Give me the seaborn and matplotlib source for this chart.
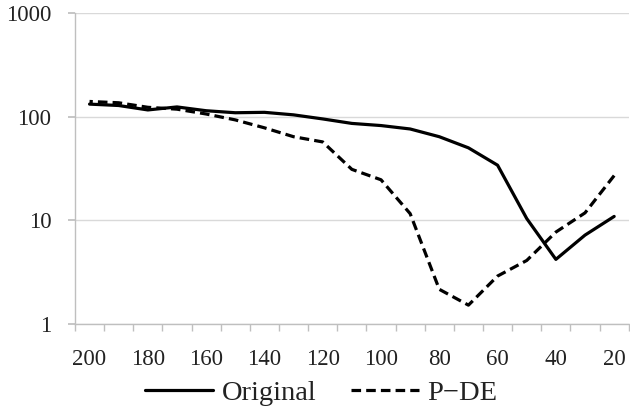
import pandas as pd
import matplotlib.pyplot as plt
import seaborn as sb
from matplotlib.ticker import FixedLocator, NullFormatter

x_vals = [200, 190, 180, 170, 160, 150, 140, 130, 120, 110, 100, 90, 80, 70, 60, 50, 40, 30, 20]
original = [132, 128, 116, 124, 114, 109, 110, 104, 95, 86, 82, 76, 64, 50, 34, 10.4, 4.2, 7.2, 10.9]
pde = [140, 136, 123, 118, 106, 93, 78, 64, 57, 31, 24.6, 11.6, 2.16, 1.52, 2.9, 4.1, 7.7, 11.8, 27]
tick_labels = ["200", "180", "160", "140", "120", "100", "80", "60", "40", "20"]

df = pd.DataFrame({"x": x_vals * 2,
                   "y": original + pde,
                   "series": ["Original"] * len(x_vals) + ["P\u2212DE"] * len(x_vals)})

sb.set_theme(style="white")
plt.rcParams['font.family'] = ['Liberation Serif', 'DejaVu Serif']

fig = plt.figure(figsize=(6.3, 4.12), dpi=100)
ax = fig.add_axes([0.119, 0.2136, 0.879, 0.755])
sb.lineplot(data=df, x="x", y="y", style="series", color="black", linewidth=2.3,
            dashes={"Original": "", "P\u2212DE": (3, 1.6)}, ax=ax, legend=True)
ax.set_yscale("log")
ax.set_ylim(1, 1000)
ax.set_xlim(205, 15)
ax.yaxis.set_major_locator(FixedLocator([1, 10, 100, 1000]))
ax.set_yticklabels(["1", "10", "100", "1000"])
ax.yaxis.set_minor_formatter(NullFormatter())
ax.yaxis.set_minor_locator(FixedLocator([]))
ax.set_xticks([int(t) for t in tick_labels])
ax.set_xticklabels(tick_labels)
ax.set_xticks([205 - 10 * i for i in range(20)], minor=True)
ax.tick_params(axis="x", which="major", length=0, labelsize=16.5, pad=18, colors="#222222")
ax.tick_params(axis="x", which="minor", length=5, color="#bfbfbf", direction="out", bottom=True)
ax.tick_params(axis="y", which="major", length=5, color="#bfbfbf", direction="out", left=True,
               labelsize=16.5, pad=12, colors="#222222")
ax.grid(axis="y", color="#d9d9d9", linewidth=1)
for s in ["top", "right"]:
    ax.spines[s].set_visible(False)
for s in ["left", "bottom"]:
    ax.spines[s].set_color("#bfbfbf")
    ax.spines[s].set_linewidth(1)
ax.set_xlabel("")
ax.set_ylabel("")
handles, labels = ax.get_legend_handles_labels()
ax.legend_.remove()
fig.legend(handles, labels, loc="center", bbox_to_anchor=(0.51, 0.045), ncol=2, frameon=False,
           fontsize=20.5, handlelength=2.4, handletextpad=0.3, columnspacing=1.2,
           labelcolor="#222222")
plt.savefig("out.png", dpi=100)
